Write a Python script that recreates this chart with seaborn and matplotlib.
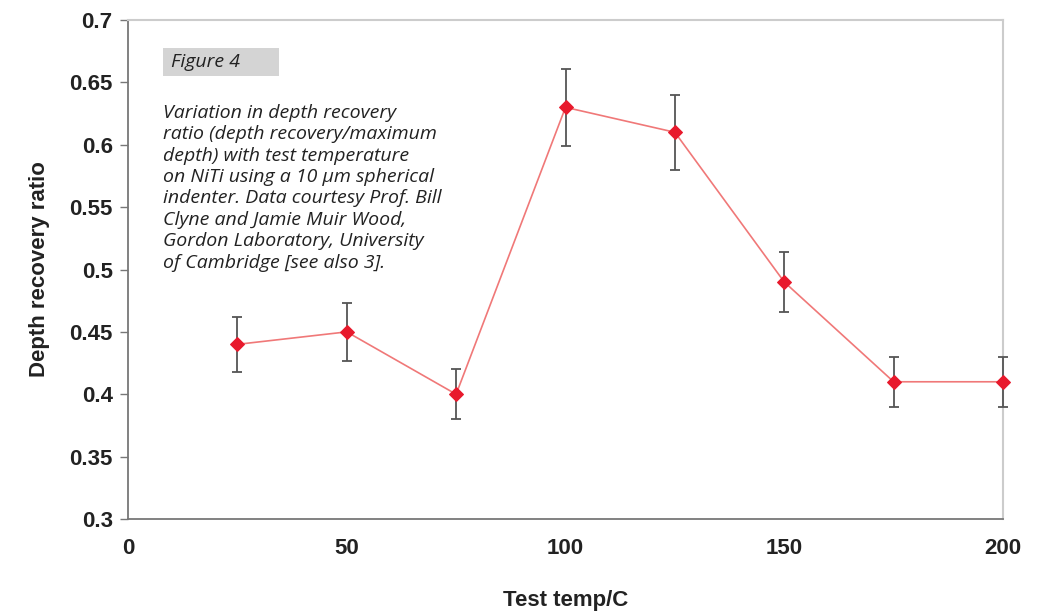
import matplotlib
matplotlib.use("Agg")
import matplotlib.pyplot as plt
import seaborn as sns
import pandas as pd
from matplotlib.patches import Rectangle

temps = [25, 50, 75, 100, 125, 150, 175, 200]
ratio = [0.44, 0.45, 0.40, 0.63, 0.61, 0.49, 0.41, 0.41]
err = [0.022, 0.023, 0.02, 0.031, 0.03, 0.024, 0.02, 0.02]
yticks = [0.3, 0.35, 0.4, 0.45, 0.5, 0.55, 0.6, 0.65, 0.7]
ytick_labels = ["0.3", "0.35", "0.4", "0.45", "0.5", "0.55", "0.6", "0.65", "0.7"]
xticks = [0, 50, 100, 150, 200]
caption = ("Variation in depth recovery\n"
           "ratio (depth recovery/maximum\n"
           "depth) with test temperature\n"
           "on NiTi using a 10 \u00b5m spherical\n"
           "indenter. Data courtesy Prof. Bill\n"
           "Clyne and Jamie Muir Wood,\n"
           "Gordon Laboratory, University\n"
           "of Cambridge [see also 3].")

sns.set_style("white")
plt.rcParams['font.family'] = ['Liberation Sans', 'DejaVu Sans']

df = pd.DataFrame({"temp": temps, "ratio": ratio, "err": err})

fig = plt.figure(figsize=(10.39, 6.16), dpi=100)
ax = fig.add_axes([128/1039, 1-519/616, (1003-128)/1039, (519-20)/616])

eb = ax.errorbar(df["temp"], df["ratio"], yerr=df["err"], fmt="none",
                 ecolor="#555555", elinewidth=1.3, capsize=3.5, capthick=1.3, zorder=2.6)
for artist in list(eb.lines[1]) + list(eb.lines[2]):
    artist.set_clip_on(False)
    artist.set_zorder(2.6)
sns.lineplot(data=df, x="temp", y="ratio", ax=ax, color="#f07878", linewidth=1.2,
             marker="D", markersize=7.5, markerfacecolor="#e8192c",
             markeredgecolor="#e8192c", zorder=3, clip_on=False)

ax.set_xlim(0, 200)
ax.set_ylim(0.3, 0.7)
ax.set_xticks(xticks)
ax.set_xticklabels([str(t) for t in xticks], fontsize=16, fontweight="bold", color="#222222")
ax.set_yticks(yticks)
ax.set_yticklabels(ytick_labels, fontsize=16, fontweight="bold", color="#222222")
ax.tick_params(axis="y", direction="out", length=6, width=1, color="#777777", pad=5, left=True)
ax.tick_params(axis="x", length=0, pad=14)

ax.set_xlabel("Test temp/C", fontsize=16, fontweight="bold", color="#222222", labelpad=22)
ax.set_ylabel("Depth recovery ratio", fontsize=16, fontweight="bold", color="#222222", labelpad=14)

for s in ["left", "bottom"]:
    ax.spines[s].set_color("#777777")
    ax.spines[s].set_linewidth(1.3)
for s in ["top", "right"]:
    ax.spines[s].set_color("#cccccc")
    ax.spines[s].set_linewidth(1.5)

# Figure label box
fig.patches.append(Rectangle((163/1039, 1-76/616), (279-163)/1039, (76-48)/616,
                             transform=fig.transFigure, facecolor="#d4d4d4",
                             edgecolor="none", zorder=1))
fig.text(171/1039, 1-62/616, "Figure 4", fontsize=14, style="italic",
         family=["Open Sans", "DejaVu Sans"], color="#222222", va="center", ha="left")
fig.text(163/1039, 1-104/616, caption, fontsize=14, style="italic",
         family=["Open Sans", "DejaVu Sans"], color="#222222", va="top", ha="left",
         linespacing=1.24)

fig.savefig("out.png", dpi=100)
